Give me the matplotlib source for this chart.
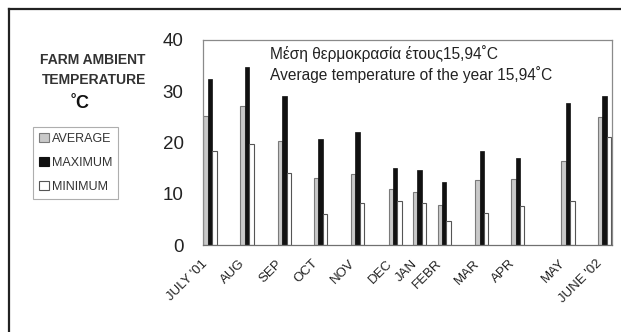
import matplotlib
matplotlib.use("Agg")
import matplotlib.pyplot as plt
from matplotlib.lines import Line2D
from matplotlib.patches import Patch

# ---- data ----
months = ["JULY '01", "AUG", "SEP", "OCT", "NOV", "DEC", "JAN", "FEBR",
          "MAR", "APR", "MAY", "JUNE '02"]
month_time = [0.0, 1.0, 2.0, 2.97, 3.97, 4.99, 5.64, 6.31, 7.32, 8.29, 9.64, 10.63]
average = [25.2, 27.1, 20.3, 13.1, 13.9, 10.9, 10.4, 7.9, 12.7, 12.9, 16.3, 24.9]
maximum = [32.4, 34.8, 29.1, 20.6, 22.0, 15.1, 14.6, 12.2, 18.4, 17.0, 27.8, 29.1]
minimum = [18.4, 19.8, 14.1, 6.1, 8.1, 8.5, 8.1, 4.7, 6.2, 7.6, 8.5, 21.1]
yticks = [0, 10, 20, 30, 40]
legend_labels = ["AVERAGE", "MAXIMUM", "MINIMUM"]
note_lines = ["Μέση θερμοκρασία έτους15,94˚C",
              "Average temperature of the year 15,94˚C"]

W, H = 621, 332
fig = plt.figure(figsize=(W / 100, H / 100), dpi=100)
fig.patch.set_facecolor("white")

ax = fig.add_axes([203 / W, 1 - 245 / H, (612 - 203) / W, (245 - 40) / H])

bw = 0.12
avg_c, avg_e = "#c9c9c9", "#7a7a7a"
max_c = "#111111"
min_c, min_e = "#ffffff", "#555555"

xs = month_time
ax.bar([x - bw for x in xs], average, width=bw, color=avg_c, edgecolor=avg_e, linewidth=0.8, zorder=2)
ax.bar(xs, maximum, width=bw, color=max_c, edgecolor=max_c, linewidth=0.5, zorder=2)
ax.bar([x + bw for x in xs], minimum, width=bw, color=min_c, edgecolor=min_e, linewidth=0.8, zorder=2)

ax.set_xlim(-0.19, 10.83)
ax.set_ylim(0, 40)
ax.set_yticks(yticks)
ax.set_yticklabels([str(v) for v in yticks], fontsize=13.5, family=["Liberation Sans", "DejaVu Sans"], color="#222222")
ax.set_xticks(xs)
ax.set_xticklabels(months, rotation=45, ha="right", fontsize=9.5,
                   family=["Liberation Sans", "DejaVu Sans"], color="#222222")
ax.tick_params(axis="both", length=0)
ax.tick_params(axis="y", pad=14)
ax.tick_params(axis="x", pad=9)
for s in ax.spines.values():
    s.set_color("#8a8a8a")
    s.set_linewidth(0.9)
ax.spines["bottom"].set_color("#707070")

fam = ["Liberation Sans", "DejaVu Sans"]
ax.text(0.165, 0.935, note_lines[0], transform=ax.transAxes, fontsize=11.2, family=fam,
        color="#222222", va="center", ha="left")
ax.text(0.165, 0.83, note_lines[1], transform=ax.transAxes, fontsize=11.2, family=fam,
        color="#222222", va="center", ha="left")

fig.text(93 / W, 1 - 60 / H, "FARM AMBIENT", fontsize=10, fontweight="bold", family=fam,
         color="#333333", ha="center", va="center")
fig.text(94 / W, 1 - 80 / H, "TEMPERATURE", fontsize=10, fontweight="bold", family=fam,
         color="#333333", ha="center", va="center")
fig.text(80 / W, 1 - 103 / H, "˚C", fontsize=13, fontweight="bold", family=fam,
         color="#111111", ha="center", va="center")

handles = [Patch(facecolor=avg_c, edgecolor=avg_e, linewidth=0.8),
           Patch(facecolor=max_c, edgecolor=max_c, linewidth=0.8),
           Patch(facecolor=min_c, edgecolor=min_e, linewidth=0.8)]
leg = fig.legend(handles, legend_labels, loc="upper left",
                 bbox_to_anchor=(33 / W, 1 - 127 / H), prop={"family": fam, "size": 9},
                 frameon=True, fancybox=False, edgecolor="#9a9a9a",
                 handlelength=0.75, handleheight=0.75, handletextpad=0.25,
                 labelspacing=0.95, borderpad=0.5, borderaxespad=0.0)
leg.get_frame().set_linewidth(0.8)
for t in leg.get_texts():
    t.set_color("#333333")

# outer border (left and top visible)
fig.add_artist(Line2D([9 / W, 9 / W], [0, 1 - 9 / H], transform=fig.transFigure,
                      color="#222222", linewidth=1.6))
fig.add_artist(Line2D([9 / W, 1], [1 - 9 / H, 1 - 9 / H], transform=fig.transFigure,
                      color="#222222", linewidth=1.6))

fig.savefig("out.png", dpi=100)
